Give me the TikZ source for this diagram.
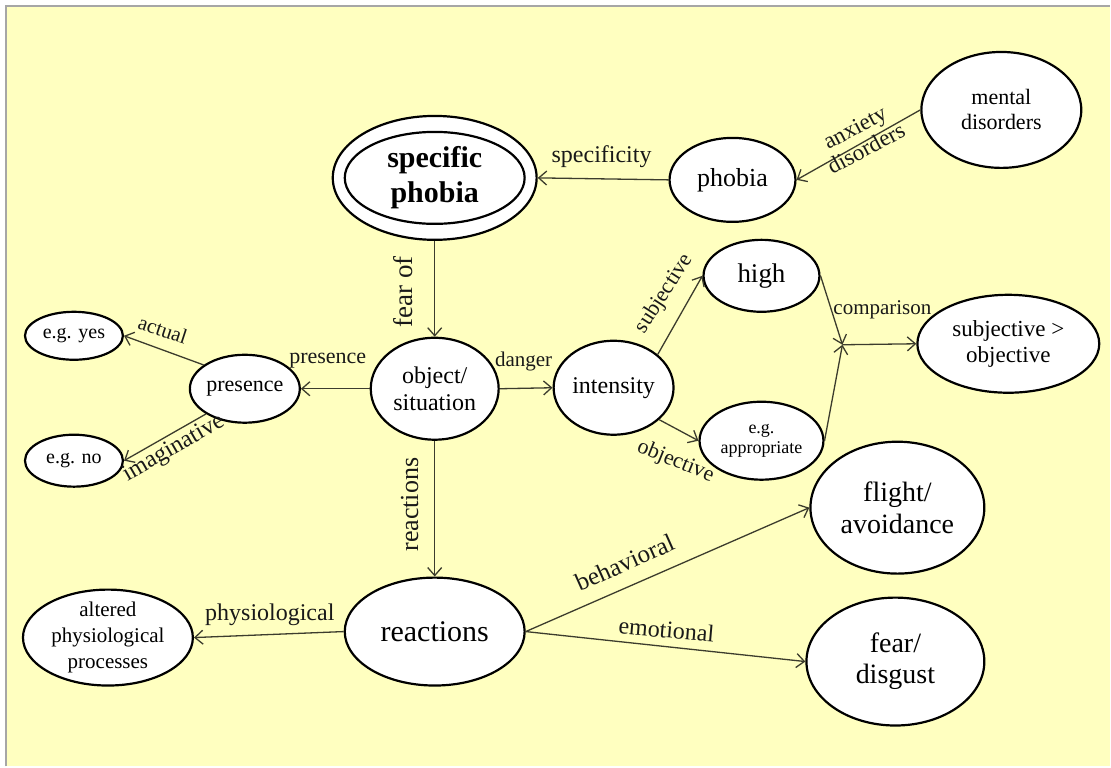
\documentclass[tikz,border=0pt]{standalone}
\usepackage{fontspec}
\setmainfont{Liberation Serif}
\usetikzlibrary{arrows.meta,shapes.geometric}
\definecolor{bgyellow}{RGB}{255,255,192}
\definecolor{edgecol}{RGB}{60,60,45}
\newcommand\fsz[2]{\fontsize{#1}{#2}\selectfont}
\begin{document}
\begin{tikzpicture}[x=1pt,y=-1pt,
  el/.style={ellipse, draw=black, line width=2.2pt, fill=white, inner sep=0pt, align=center, text=black},
  conn/.style={draw=edgecol, line width=1.3pt, -{Straight Barb[length=8pt,width=14pt,line width=1.3pt]}},
  lab/.style={inner sep=0pt, text=black!90, align=center},
]
\fill[white] (0,0) rectangle (1111,767);
\fill[bgyellow] (6,6) rectangle (1111,767);
\draw[gray!70, line width=1.5pt] (6,767) -- (6,6) -- (1111,6);
\useasboundingbox (0,0) rectangle (1111,767);

% nodes
\node[el, minimum width=204pt, minimum height=124pt, font=\fsz{30}{35}\bfseries] (sp) at (435,178) {specific\\phobia};
\draw[line width=2.2pt] (sp.center) ellipse [x radius=90pt, y radius=46pt];
\node[el, minimum width=126pt, minimum height=84pt, font=\fsz{26}{28}] (phobia) at (733,180) {phobia};
\node[el, minimum width=160pt, minimum height=116pt, font=\fsz{22}{25}] (mental) at (1002,110) {mental\\disorders};
\node[el, minimum width=116pt, minimum height=72pt, font=\fsz{27}{29}] (high) at (762,276) {high};
\node[el, minimum width=124pt, minimum height=78pt, font=\fsz{18}{20}] (app) at (762,441) {e.g.\\appropriate};
\node[el, minimum width=182pt, minimum height=98pt, font=\fsz{23}{26}] (so) at (1009,344) {subjective >\\objective};
\node[el, minimum width=120pt, minimum height=94pt, font=\fsz{24}{27}] (int) at (614,388) {intensity};
\node[el, minimum width=128pt, minimum height=102pt, font=\fsz{24}{27}] (obj) at (435,389) {object/\\situation};
\node[el, minimum width=110pt, minimum height=68pt, font=\fsz{22}{24}] (pres) at (245,389) {presence};
\node[el, minimum width=98pt, minimum height=48pt, font=\fsz{20}{22}] (yes) at (74,336) {e.g. yes};
\node[el, minimum width=98pt, minimum height=52pt, font=\fsz{20}{22}] (no) at (74,461) {e.g. no};
\node[el, minimum width=180pt, minimum height=108pt, font=\fsz{30}{32}] (react) at (435,632) {reactions};
\node[el, minimum width=170pt, minimum height=96pt, inner ysep=-5pt, font=\fsz{21}{26}] (alt) at (108,638) {altered\\physiological\\processes};
\node[el, minimum width=174pt, minimum height=132pt, font=\fsz{28}{32}] (flight) at (898,508) {flight/\\avoidance};
\node[el, minimum width=178pt, minimum height=128pt, font=\fsz{28}{31}] (fear) at (896,662) {fear/\\disgust};
\coordinate (j) at (843,345);

% connectors
\draw[conn] (phobia.west) -- (sp.east);
\draw[conn] (mental.west) -- (phobia.east);
\draw[conn] (sp.south) -- (obj.north);
\draw[conn] (obj.east) -- (int.west);
\draw[conn] (obj.west) -- (pres.east);
\draw[conn] (pres.150) -- (yes.east);
\draw[conn] (pres.213) -- (no.east);
\draw[conn] (int.37) -- (high.west);
\draw[conn] (int.-35) -- (app.west);
\draw[conn] (high.east) -- (j);
\draw[conn] (app.east) -- (j);
\draw[conn] (j) -- (so.west);
\draw[conn] (obj.south) -- (react.north);
\draw[conn] (react.west) -- (alt.east);
\draw[conn] (react.east) -- (flight.west);
\draw[conn] (react.east) -- (fear.west);

% labels
\node[lab, rotate=28, font=\fsz{23}{24}] (lanx) at (861,138) {anxiety\\disorders};
\node[lab, font=\fsz{24}{26}] (lspec) at (602,157) {specificity};
\node[lab, rotate=90, font=\fsz{27}{29}] (lfear) at (403,292) {fear of};
\node[lab, font=\fsz{22}{24}] (lpres) at (328,361) {presence};
\node[lab, font=\fsz{21}{23}] (ldang) at (524,362) {danger};
\node[lab, rotate=-18, font=\fsz{21}{23}] (lact) at (163,330) {actual};
\node[lab, rotate=30, font=\fsz{24}{26}] (limag) at (174,449) {imaginative};
\node[lab, rotate=57, font=\fsz{22}{24}] (lsubj) at (665,294) {subjective};
\node[lab, rotate=-22, font=\fsz{22}{24}] (lobj) at (676,462) {objective};
\node[lab, font=\fsz{21}{23}] (lcomp) at (883,310) {comparison};
\node[lab, rotate=90, font=\fsz{26}{28}] (lreact) at (410,505) {reactions};
\node[lab, font=\fsz{24}{26}] (lphys) at (270,615) {physiological};
\node[lab, rotate=24, font=\fsz{25}{27}] (lbeh) at (625,563) {behavioral};
\node[lab, rotate=-5, font=\fsz{24}{26}] (lemo) at (667,630) {emotional};
\end{tikzpicture}
\end{document}
